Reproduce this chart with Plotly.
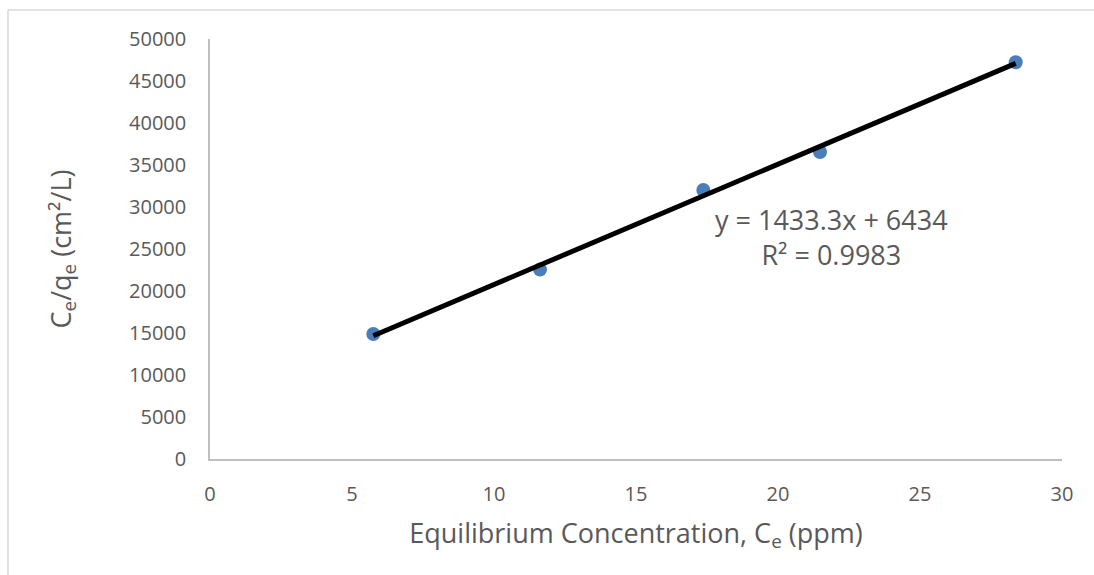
import plotly.graph_objects as go

# Equilibrium concentration Ce (ppm) and Ce/qe (cm²/L)
ce = [5.75, 11.62, 17.37, 21.48, 28.37]
ce_qe = [14880, 22550, 32020, 36550, 47230]

# Linear trendline coefficients
slope = 1433.3
intercept = 6434
r_squared = 0.9983

x_ticks = [0, 5, 10, 15, 20, 25, 30]
y_ticks = [0, 5000, 10000, 15000, 20000, 25000, 30000, 35000, 40000, 45000, 50000]
y_tick_labels = [str(v) for v in y_ticks]

FONT = "Open Sans"
TEXT_COLOR = "#595959"
AXIS_COLOR = "#bfbfbf"

x_fit = [min(ce), max(ce)]
y_fit = [slope * v + intercept for v in x_fit]

fig = go.Figure()
fig.add_trace(go.Scatter(
    x=ce, y=ce_qe, mode="markers",
    marker=dict(size=14, color="#4a7ebb", line=dict(width=0)),
    showlegend=False,
))
fig.add_trace(go.Scatter(
    x=x_fit, y=y_fit, mode="lines",
    line=dict(color="black", width=5),
    showlegend=False,
))

fig.add_annotation(
    x=21.87, y=26400, xref="x", yref="y",
    text=f"y = {slope}x + {intercept}<br>R² = {r_squared}",
    showarrow=False, align="center",
    font=dict(family=FONT, size=27, color=TEXT_COLOR),
)

# chart frame border (left and top edges)
fig.add_shape(type="line", xref="paper", yref="paper",
              x0=-0.2371, x1=-0.2371, y0=1.069, y1=-0.28,
              line=dict(color="#d9d9d9", width=1.5))
fig.add_shape(type="line", xref="paper", yref="paper",
              x0=-0.2371, x1=1.04, y0=1.069, y1=1.069,
              line=dict(color="#d9d9d9", width=1.5))

fig.update_layout(
    width=1094, height=575,
    margin=dict(l=210, r=32, t=39, b=116),
    paper_bgcolor="white", plot_bgcolor="white",
    font=dict(family=FONT, color=TEXT_COLOR),
    xaxis=dict(
        range=[0, 30], tickvals=x_ticks, showgrid=False, zeroline=False,
        showline=True, linecolor=AXIS_COLOR, linewidth=1.5,
        ticks="", ticklabelstandoff=16,
        tickfont=dict(family=FONT, size=20, color=TEXT_COLOR),
        title=dict(text="Equilibrium Concentration, C<sub>e</sub> (ppm)",
                   font=dict(family=FONT, size=27, color=TEXT_COLOR), standoff=18),
    ),
    yaxis=dict(
        range=[0, 50000], tickvals=y_ticks, ticktext=y_tick_labels,
        showgrid=False, zeroline=False,
        showline=True, linecolor=AXIS_COLOR, linewidth=1.5,
        ticks="", ticklabelstandoff=18,
        tickfont=dict(family=FONT, size=20, color=TEXT_COLOR),
        title=dict(text="C<sub>e</sub>/q<sub>e</sub> (cm²/L)",
                   font=dict(family=FONT, size=27, color=TEXT_COLOR), standoff=50),
    ),
)

fig.write_html("out.html")
